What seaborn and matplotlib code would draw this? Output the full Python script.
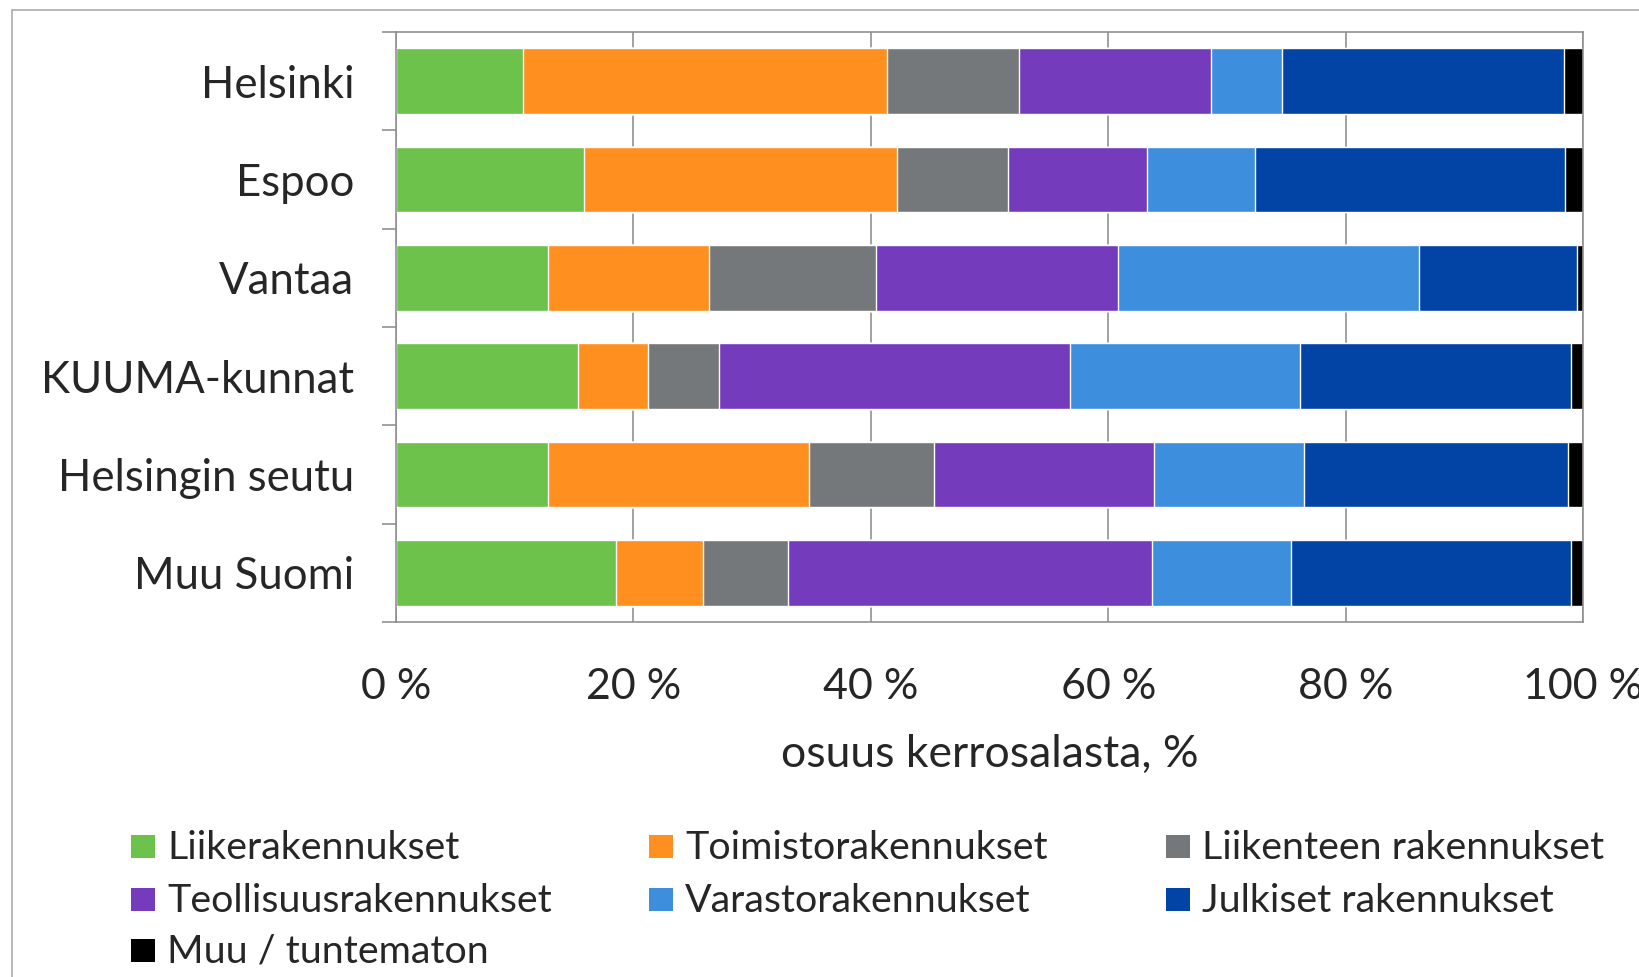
import matplotlib
matplotlib.use('Agg')
import matplotlib.pyplot as plt
import matplotlib.patches as mpatches
from matplotlib.lines import Line2D
from matplotlib.ticker import FixedLocator
import pandas as pd
import seaborn as sns

# Data (shares of floor area, %)
areas = ['Helsinki', 'Espoo', 'Vantaa', 'KUUMA-kunnat', 'Helsingin seutu', 'Muu Suomi']
building_types = ['Liikerakennukset', 'Toimistorakennukset', 'Liikenteen rakennukset',
                  'Teollisuusrakennukset', 'Varastorakennukset', 'Julkiset rakennukset',
                  'Muu / tuntematon']
liike = [10.7, 15.8, 12.8, 15.3, 12.8, 18.5]
toimisto = [30.7, 26.4, 13.6, 5.9, 22.0, 7.4]
liikenne = [11.1, 9.4, 14.0, 6.0, 10.5, 7.1]
teollisuus = [16.2, 11.7, 20.4, 29.6, 18.6, 30.7]
varasto = [5.9, 9.1, 25.4, 19.4, 12.6, 11.7]
julkiset = [23.8, 26.1, 13.3, 22.8, 22.2, 23.6]
muu = [1.6, 1.5, 0.5, 1.0, 1.3, 1.0]
x_ticks = [0, 20, 40, 60, 80, 100]
x_tick_labels = ['0 %', '20 %', '40 %', '60 %', '80 %', '100 %']
x_title = 'osuus kerrosalasta, %'

colors = ['#6cc24a', '#ff8f1f', '#75787b', '#753bbd', '#3e8ede', '#0243a6', '#000000']

W, H = 1639, 977
sns.set_style('white')
plt.rcParams['font.family'] = ['Lato', 'DejaVu Sans']

df = pd.DataFrame(dict(zip(building_types,
                           [liike, toimisto, liikenne, teollisuus, varasto, julkiset, muu])),
                  index=areas)
cum = df.cumsum(axis=1)
cum.index.name = 'alue'
cum = cum.reset_index()

fig = plt.figure(figsize=(W / 100, H / 100), dpi=100)
ax = fig.add_axes([396 / W, 1 - 622 / H, (1583 - 396) / W, (622 - 32) / H])

# stacked bars: draw cumulative totals from the last series backwards
for col, c in reversed(list(zip(building_types, colors))):
    sns.barplot(data=cum, x=col, y='alue', color=c, orient='h', width=0.67,
                saturation=1, ax=ax, zorder=2)

grid_c = '#8c8c8c'
ax.set_xlim(0, 100)
ax.set_ylim(5.5, -0.5)
ax.set_xticks(x_ticks)
ax.set_xticklabels(x_tick_labels)
ax.set_axisbelow(True)
ax.grid(axis='x', color=grid_c, linewidth=1.15)
for s in ax.spines.values():
    s.set_visible(True)
    s.set_color(grid_c)
    s.set_linewidth(1.15)

ax.yaxis.set_minor_locator(FixedLocator([i - 0.5 for i in range(len(areas) + 1)]))
ax.tick_params(axis='y', which='major', length=0, pad=30, labelsize=31.5)
ax.tick_params(axis='y', which='minor', length=10, width=1.15, color=grid_c, left=True)
ax.tick_params(axis='x', which='major', length=11, width=1.15, color=grid_c,
               pad=22, labelsize=31)
ax.set_ylabel('')
ax.set_xlabel(x_title, fontsize=32, labelpad=20)

# legend, laid out row by row like the original
col_x = [131, 649, 1165.5]
row_base = [859, 911.5, 963]
for i, (name, c) in enumerate(zip(building_types, colors)):
    r, k = divmod(i, 3)
    x0, yb = col_x[k], row_base[r]
    fig.add_artist(mpatches.Rectangle((x0 / W, 1 - (yb - 1) / H), 24 / W, 23 / H,
                                      transform=fig.transFigure, color=c, lw=0))
    fig.text((x0 + 36) / W, 1 - yb / H, name, fontsize=28.4, va='baseline', ha='left')

# outer chart frame
frame_c = '#a6a6a6'
fig.add_artist(Line2D([11.7 / W, 11.7 / W], [0, 1 - 10 / H], transform=fig.transFigure,
                      color=frame_c, lw=1.1))
fig.add_artist(Line2D([11.7 / W, 1], [1 - 10 / H, 1 - 10 / H], transform=fig.transFigure,
                      color=frame_c, lw=1.1))

fig.savefig('out.png', dpi=100)
plt.close(fig)
